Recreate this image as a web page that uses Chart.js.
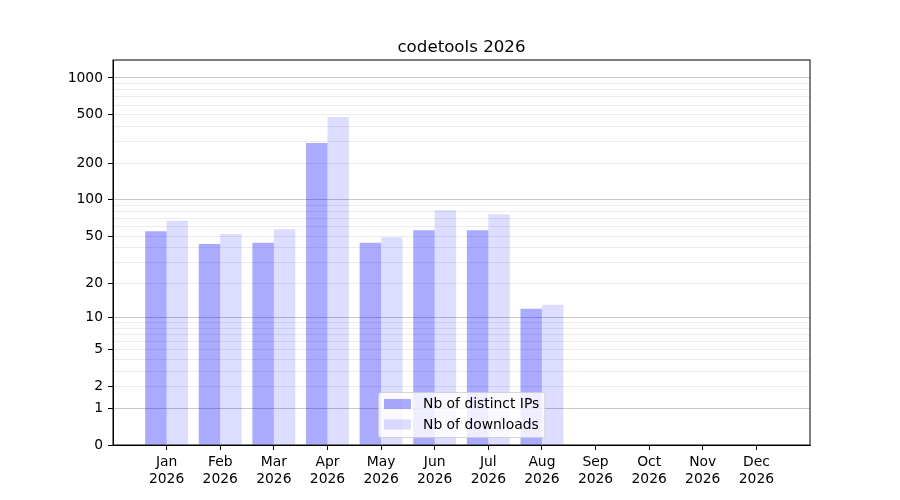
<!DOCTYPE html>
<html lang="en">
<head>
  <meta charset="UTF-8" />
  <title>codetools 2026</title>
  <script src="https://cdn.jsdelivr.net/npm/chart.js"></script>
  <style>
    body { margin: 0; background: #ffffff; }
    canvas { display: block; }
  </style>
</head>
<body>
  <canvas id="statsChart" width="900" height="500"></canvas>

  <script>
    const chartTitle = 'codetools 2026';
    const months = ['Jan', 'Feb', 'Mar', 'Apr', 'May', 'Jun', 'Jul', 'Aug', 'Sep', 'Oct', 'Nov', 'Dec'];
    const years = ['2026', '2026', '2026', '2026', '2026', '2026', '2026', '2026', '2026', '2026', '2026', '2026'];
    const distinctIps = [55, 43, 44, 293, 44, 56, 56, 12];
    const downloads = [67, 52, 57, 480, 49, 82, 76, 13];
    const yLabelValues = [0, 1, 2, 5, 10, 20, 50, 100, 200, 500, 1000];
    const yMajorGrid = [1, 10, 100, 1000];
    const yMinorGrid = [2, 3, 4, 5, 6, 7, 8, 9, 20, 30, 40, 50, 60, 70, 80, 90,
                        200, 300, 400, 500, 600, 700, 800, 900];

    const FONT = 'DejaVu Sans';

    // y axis drawn as log10(1 + v), like the reference
    class Log1pScale extends Chart.LinearScale {
      static id = 'log1p';
      static defaults = Chart.LinearScale.defaults;
      _t(v) { return Math.log10(1 + v); }
      getPixelForValue(v) {
        const a = this._t(this.min), b = this._t(this.max);
        return this.getPixelForDecimal((this._t(v) - a) / (b - a));
      }
      getValueForPixel(p) {
        const a = this._t(this.min), b = this._t(this.max);
        return Math.pow(10, a + this.getDecimalForPixel(p) * (b - a)) - 1;
      }
    }
    Chart.register(Log1pScale);

    const frameAndText = {
      id: 'frameAndText',
      afterDatasetsDraw(chart) {
        const { ctx, chartArea: a } = chart;
        ctx.save();
        ctx.strokeStyle = '#000';
        ctx.lineWidth = 1;
        ctx.strokeRect(a.left, a.top, a.right - a.left, a.bottom - a.top);

        ctx.fillStyle = '#000';
        ctx.font = '16.67px "' + FONT + '"';
        ctx.textAlign = 'center';
        ctx.textBaseline = 'alphabetic';
        ctx.fillText(chartTitle, (a.left + a.right) / 2, a.top - 8);

        // legend inside the plot, lower centre
        ctx.font = '13.89px "' + FONT + '"';
        const sets = chart.data.datasets;
        const textW = Math.max(...sets.map(d => ctx.measureText(d.label).width));
        const w = 5.5 + 27 + 12 + textW + 5.5;
        const h = 45;
        const x0 = a.left + 265.5;
        const y0 = a.bottom - 7.5 - h;
        ctx.beginPath();
        ctx.roundRect(x0, y0, w, h, 2.5);
        ctx.fillStyle = 'rgba(255,255,255,0.8)';
        ctx.fill();
        ctx.strokeStyle = 'rgba(204,204,204,0.8)';
        ctx.stroke();
        ctx.textAlign = 'left';
        ctx.textBaseline = 'middle';
        sets.forEach((d, i) => {
          const cy = y0 + 11.5 + i * 20.5;
          ctx.fillStyle = d.backgroundColor;
          ctx.fillRect(x0 + 5.5, cy - 5, 27, 10);
          ctx.fillStyle = '#000';
          ctx.fillText(d.label, x0 + 44.5, cy + 0.5);
        });
        ctx.restore();
      }
    };

    const ctx = document.getElementById('statsChart').getContext('2d');
    new Chart(ctx, {
      type: 'bar',
      data: {
        datasets: [{
          label: 'Nb of distinct IPs',
          data: distinctIps.map((v, i) => ({ x: i, y: v })),
          backgroundColor: 'rgba(0,0,255,0.333)',
          borderWidth: 0
        }, {
          label: 'Nb of downloads',
          data: downloads.map((v, i) => ({ x: i, y: v })),
          backgroundColor: 'rgba(0,0,255,0.133)',
          borderWidth: 0
        }]
      },
      plugins: [frameAndText],
      options: {
        responsive: false,
        animation: false,
        layout: { padding: { top: 60, right: 90, left: 0, bottom: 0 } },
        plugins: {
          legend: { display: false },
          title: { display: false },
          tooltip: { enabled: false }
        },
        datasets: {
          bar: { categoryPercentage: 0.8, barPercentage: 1.0 }
        },
        scales: {
          x: {
            type: 'linear',
            min: -1,
            max: 12,
            offset: false,
            afterFit: s => { s.height = 55; },
            afterBuildTicks: s => { s.ticks = months.map((m, i) => ({ value: i })); },
            grid: { offset: false, drawOnChartArea: false, drawTicks: true, tickLength: 5, tickColor: '#000' },
            border: { display: true, color: '#000' },
            ticks: {
              autoSkip: false,
              maxRotation: 0,
              padding: 4,
              color: '#000',
              font: { family: FONT, size: 13.89, lineHeight: 1.2 },
              callback: v => [months[v], years[v]]
            }
          },
          y: {
            type: 'log1p',
            min: 0,
            max: 1402,
            afterFit: s => { s.width = 113; },
            afterBuildTicks: s => {
              const vals = [...new Set([0, ...yMajorGrid, ...yMinorGrid, ...yLabelValues])].sort((p, q) => p - q);
              s.ticks = vals.map(v => ({ value: v }));
            },
            grid: {
              drawTicks: true,
              tickLength: 5,
              color: c => yMajorGrid.includes(c.tick.value) ? '#c8c8c8'
                        : (c.tick.value === 0 ? 'rgba(0,0,0,0)' : '#ececec'),
              tickColor: c => yLabelValues.includes(c.tick.value) ? '#000' : 'rgba(0,0,0,0)'
            },
            border: { display: true, color: '#000' },
            ticks: {
              autoSkip: false,
              padding: 5,
              color: '#000',
              font: { family: FONT, size: 13.89 },
              callback: v => yLabelValues.includes(v) ? String(v) : ''
            }
          }
        }
      }
    });
  </script>
</body>
</html>
